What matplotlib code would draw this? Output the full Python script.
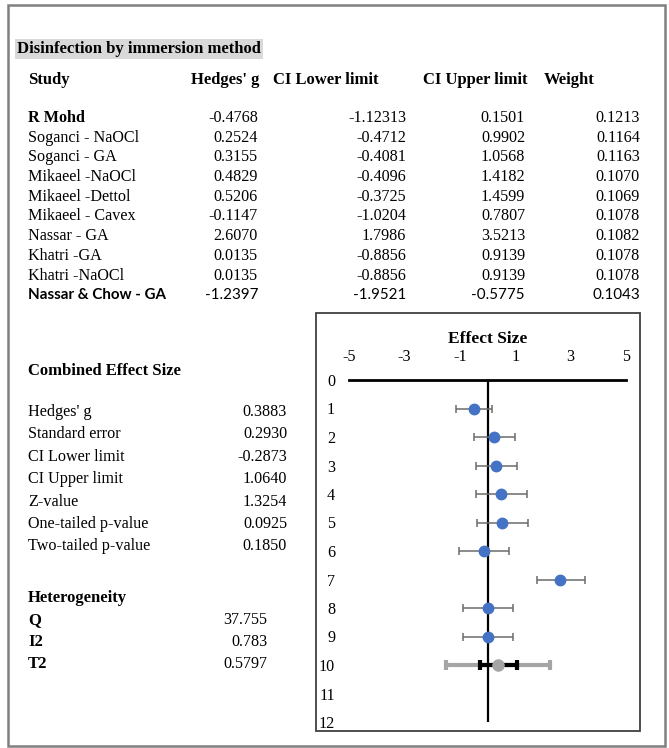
import matplotlib
matplotlib.use("Agg")
import matplotlib.pyplot as plt
from matplotlib.patches import Rectangle

# ---------------- data ----------------
studies = ["R Mohd", "Soganci - NaOCl", "Soganci - GA", "Mikaeel -NaOCl", "Mikaeel -Dettol",
           "Mikaeel - Cavex", "Nassar - GA", "Khatri -GA", "Khatri -NaOCl", "Nassar & Chow - GA"]
hedges_g = ["-0.4768", "0.2524", "0.3155", "0.4829", "0.5206", "-0.1147", "2.6070", "0.0135", "0.0135", "-1.2397"]
ci_lower = ["-1.12313", "-0.4712", "-0.4081", "-0.4096", "-0.3725", "-1.0204", "1.7986", "-0.8856", "-0.8856", "-1.9521"]
ci_upper = ["0.1501", "0.9902", "1.0568", "1.4182", "1.4599", "0.7807", "3.5213", "0.9139", "0.9139", "-0.5775"]
weight = ["0.1213", "0.1164", "0.1163", "0.1070", "0.1069", "0.1078", "0.1082", "0.1078", "0.1078", "0.1043"]

combined_labels = ["Hedges' g", "Standard error", "CI Lower limit", "CI Upper limit", "Z-value",
                   "One-tailed p-value", "Two-tailed p-value"]
combined_values = ["0.3883", "0.2930", "-0.2873", "1.0640", "1.3254", "0.0925", "0.1850"]

het_labels = ["Q", "I2", "T2"]
het_values = ["37.755", "0.783", "0.5797"]

# studies shown in the forest plot (rows 1-9)
n_plot = 9
combined_g = 0.3883
combined_lo = -0.2873
combined_hi = 1.0640
pred_lo = -1.49
pred_hi = 2.27
x_ticks = [-5, -3, -1, 1, 3, 5]
y_ticks = list(range(13))

# ---------------- figure ----------------
W, H = 669, 748
fig = plt.figure(figsize=(W / 100, H / 100), dpi=100)
SERIF = ["Liberation Serif", "DejaVu Serif"]
SANS = ["Lato", "DejaVu Sans"]
FS = 11.6
FSB = 12.0


def fx(px):
    return px / W


def fy(py):
    return 1 - py / H


def put(px, py, s, ha="left", bold=False, family=SERIF, size=FS, **kw):
    fig.text(fx(px), fy(py), s, ha=ha, va="center", fontsize=size,
             fontweight="bold" if bold else "normal", family=family, **kw)


# outer frame
fig.patches.append(Rectangle((fx(8), fy(746)), fx(665) - fx(8), fy(5) - fy(746),
                             transform=fig.transFigure, fill=False, edgecolor="#808080", lw=1.8))

# title with grey background
put(17, 49, "Disinfection by immersion method", bold=True, size=FSB,
    bbox=dict(facecolor="#d9d9d9", edgecolor="none", pad=1.5))

# header row
put(28, 80, "Study", bold=True, size=FSB)
put(259, 80, "Hedges' g", ha="right", bold=True, size=FSB)
put(273, 80, "CI Lower limit", bold=True, size=FSB)
put(423, 80, "CI Upper limit", bold=True, size=FSB)
put(544, 80, "Weight", bold=True, size=FSB)

for i, name in enumerate(studies):
    y = 118 + 19.7 * i
    if i == len(studies) - 1:
        fam, lab_bold = SANS, True
        fs = FS - 0.7
    else:
        fam, lab_bold = SERIF, (i == 0)
        fs = FS
    put(28, y, name, bold=lab_bold, family=fam, size=fs)
    put(258, y, hedges_g[i], ha="right", family=fam, size=fs)
    put(406, y, ci_lower[i], ha="right", family=fam, size=fs)
    put(525, y, ci_upper[i], ha="right", family=fam, size=fs)
    put(640, y, weight[i], ha="right", family=fam, size=fs)

# combined effect size
put(28, 371, "Combined Effect Size", bold=True, size=FSB)
for i, (lab, val) in enumerate(zip(combined_labels, combined_values)):
    y = 412 + 22.4 * i
    put(28, y, lab)
    put(287, y, val, ha="right")

# heterogeneity
put(28, 598, "Heterogeneity", bold=True, size=FSB)
for i, (lab, val) in enumerate(zip(het_labels, het_values)):
    y = 620 + 22 * i
    put(28, y, lab, bold=True, size=FSB)
    put(267, y, val, ha="right")

# forest plot box
fig.patches.append(Rectangle((fx(316), fy(731)), fx(640) - fx(316), fy(313) - fy(731),
                             transform=fig.transFigure, fill=False, edgecolor="#404040", lw=1.3))
put(488, 339, "Effect Size", ha="center", bold=True, size=12.5)

ax = fig.add_axes([fx(349), fy(722), fx(626) - fx(349), fy(380) - fy(722)])
ax.set_xlim(-5, 5)
ax.set_ylim(12, 0)
for s in ["left", "right", "bottom"]:
    ax.spines[s].set_visible(False)
ax.spines["top"].set_linewidth(2)
ax.spines["top"].set_color("black")
ax.patch.set_alpha(0)
ax.xaxis.tick_top()
ax.set_xticks(x_ticks)
ax.set_xticklabels([str(t) for t in x_ticks], family=SERIF, fontsize=FS)
ax.set_yticks(y_ticks)
ax.set_yticklabels([str(t) for t in y_ticks], family=SERIF, fontsize=FS)
ax.tick_params(axis="x", length=0, pad=11)
ax.tick_params(axis="y", length=0, pad=10)
ax.axvline(0, color="black", lw=1.6, zorder=1)

g_vals = [float(v) for v in hedges_g[:n_plot]]
lo_vals = [float(v) for v in ci_lower[:n_plot]]
hi_vals = [float(v) for v in ci_upper[:n_plot]]
rows = list(range(1, n_plot + 1))
xerr = [[g - lo for g, lo in zip(g_vals, lo_vals)], [hi - g for g, hi in zip(g_vals, hi_vals)]]
ax.errorbar(g_vals, rows, xerr=xerr, fmt="o", color="#4472C4", markersize=7.5,
            ecolor="#6b6b6b", elinewidth=1.1, capsize=2.6, capthick=1.1, zorder=3)

# combined estimate (row 10)
ax.errorbar([combined_g], [10], xerr=[[combined_g - pred_lo], [pred_hi - combined_g]], fmt="none",
            ecolor="#A5A5A5", elinewidth=3, capsize=3.5, capthick=3, zorder=2)
ax.errorbar([combined_g], [10], xerr=[[combined_g - combined_lo], [combined_hi - combined_g]], fmt="none",
            ecolor="black", elinewidth=3, capsize=3.5, capthick=3, zorder=3)
ax.plot([combined_g], [10], "o", color="#A5A5A5", markersize=8, zorder=4)

fig.savefig("out.png", dpi=100)
